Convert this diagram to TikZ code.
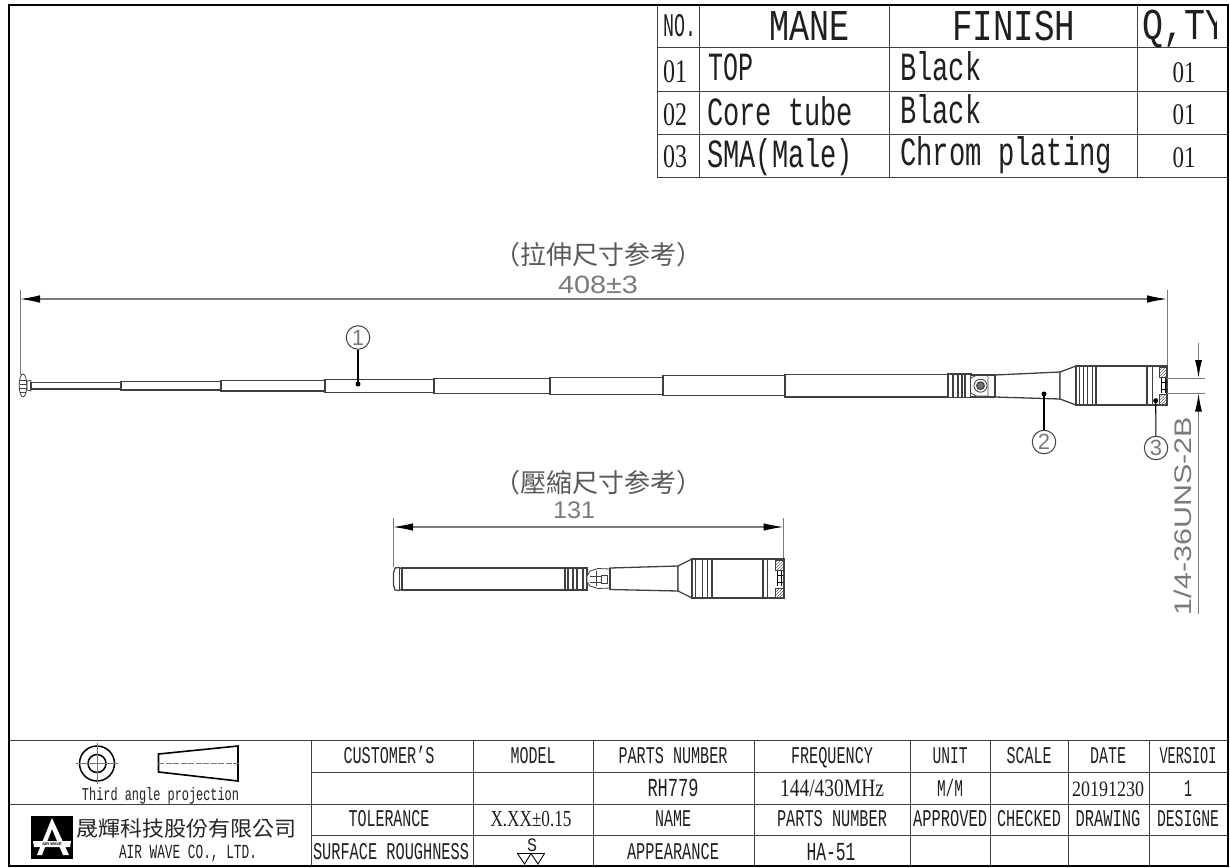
\documentclass[tikz,border=0pt]{standalone}
\usepackage{fontspec}
\usepackage{graphicx}
\usetikzlibrary{arrows.meta,patterns}
\setmainfont{Liberation Mono}
\newfontfamily\cjk{Noto Sans CJK TC}
\newfontfamily\cadfont{Liberation Sans}
\newfontfamily\numf{Liberation Serif}
\newcommand\T[3]{{\fontsize{#1}{#1}\selectfont\resizebox{#2pt}{\height}{#3}}}
\newcommand\N[3]{{\numf\fontsize{#1}{#1}\selectfont\resizebox{#2pt}{\height}{#3}}}
\definecolor{ink}{gray}{0.25}
\definecolor{cad}{gray}{0.48}
\tikzset{
  x=1pt,y=-1pt,
  txt/.style={inner sep=0pt,anchor=base,text=black!88},
  ltxt/.style={inner sep=0pt,anchor=base west,text=black!88},
  grid/.style={draw=ink,line width=1pt},
  part/.style={draw=ink,line width=1.3pt,fill=white},
  joint/.style={draw=ink,line width=2pt},
  thin part/.style={draw=ink,line width=.8pt},
  hatch/.style={draw=ink,line width=.4pt,pattern=north east lines,pattern color=black!60},
  dimline/.style={draw=cad,line width=1.1pt},
  dimarrow/.style={dimline,{Latex[length=20pt,width=7.5pt,black]}-{Latex[length=20pt,width=7.5pt,black]}},
  extline/.style={draw=cad,line width=1pt},
  balloon/.style={circle,draw=ink,line width=1pt,minimum size=23.5pt,inner sep=0pt,text=cad,font=\cadfont\fontsize{22}{22}\selectfont},
  leader/.style={draw=black,line width=1.1pt},
  dot/.style={fill=black,circle,inner sep=0pt,minimum size=5pt},
  cadtext/.style={inner sep=0pt,text=cad,font=\cadfont},
  cjktext/.style={inner sep=0pt,text=black!65,font=\cjk\fontsize{26}{26}\selectfont},
}
\begin{document}
\begin{tikzpicture}
\useasboundingbox (0,0) rectangle (1230,867);
\fill[white] (0,0) rectangle (1230,867);
% outer frame
\draw[black,line width=2pt] (8.5,5) rectangle (1227.5,865.5);

% top table
\draw[grid] (657,5)--(657,177)--(1227,177);
\draw[grid] (657,48)--(1227,48) (657,91)--(1227,91) (657,134)--(1227,134);
\draw[grid] (699,5)--(699,177) (889,5)--(889,177) (1137,5)--(1137,177);
\node[txt] (h1) at (679.5,37) {\T{33}{33}{NO.}};
\node[txt] (h2) at (809,41) {\T{44}{80}{MANE}};
\node[txt] (h3) at (1013.5,41) {\T{44}{123}{FINISH}};
\begin{scope}
\clip (1137,6) rectangle (1216,48);
\node[ltxt] (h4) at (1142,40) {\T{44}{84}{Q,TY}};
\end{scope}
\node[txt] (a1) at (675,82) {\N{33}{24}{01}};
\node[ltxt] (a2) at (708,81) {\T{40}{45}{TOP}};
\node[ltxt] (a3) at (900,80) {\T{40}{81}{Black}};
\node[txt] (a4) at (1184,82) {\N{30}{23}{01}};
\node[txt] (b1) at (675,125) {\N{33}{24}{02}};
\node[ltxt] (b2) at (707,125) {\T{40}{146}{Core tube}};
\node[ltxt] (b3) at (900,123) {\T{40}{81}{Black}};
\node[txt] (b4) at (1184,124) {\N{30}{23}{01}};
\node[txt] (c1) at (675,167) {\N{33}{24}{03}};
\node[ltxt] (c2) at (707,167) {\T{40}{146}{SMA(Male)}};
\node[ltxt] (c3) at (900,165) {\T{40}{212}{Chrom plating}};
\node[txt] (c4) at (1184,167) {\N{30}{23}{01}};

% main dimension
\coordinate (dl) at (20,299);
\coordinate (dr) at (1167,299);
\coordinate (dlb) at (20,375);
\coordinate (drb) at (1167,366);
\draw[extline] (20,290)--(dlb);
\draw[extline] (1167,290)--(drb);
\draw[dimarrow] (dl)--(dr);
\node[cjktext] (t1) at (598.5,255) {（拉伸尺寸参考）};
\node[cadtext,font=\cadfont\fontsize{25}{25}\selectfont] (t2) at (598,285) {\resizebox{80pt}{\height}{408±3}};

% main antenna : rod
\draw[thin part,fill=white] (23,385.5) ellipse [x radius=3.8,y radius=11.5];
\draw[draw=ink,line width=.5pt] (20,380)--(26,380) (19.5,384)--(26.5,384) (19.5,388)--(26.5,388) (20,392)--(26,392);
\draw[thin part,fill=white] (27,381)--(31,380.5)--(31,391)--(27,390)--cycle;
\draw[part] (31,382.5) rectangle (121,389);
\draw[part] (121,381.3) rectangle (221,390);
\draw[part] (221,380.3) rectangle (325,391);
\draw[part] (325,379.3) rectangle (434,392.2);
\draw[part] (434,378.3) rectangle (550,393.3);
\draw[part] (550,377.3) rectangle (663,394.3);
\draw[part] (663,375.5) rectangle (785,395.7);
\draw[part] (785,374.5) rectangle (948,397);
\foreach \xx/\a/\b in {121/381.3/390,221/380.3/391,325/379.3/392.2,434/378.3/393.3,550/377.3/394.3,663/375.5/395.7,785/374.5/397}
  \draw[joint] (\xx,\a)--(\xx,\b);
% grip
\draw[part] (948,374) rectangle (971,397.5);
\foreach \xx in {948,953,958,962,965,971} \draw[joint,line width=1.3pt] (\xx,374)--(\xx,397.5);
% hinge
\draw[part] (971,375) -- (995,375) -- (995,397) -- (971,397);
\draw[thin part,fill=white] (971,378) -- (976,375.5) -- (988,375.5) -- (988,396) -- (976,396) -- (971,393);
\draw[thin part,fill=white] (980.5,385.7) circle (6.5);
\draw[draw=ink,line width=1.2pt,fill=black!55] (980.5,385.7) circle (3.8);
% taper
\draw[part] (995,375)--(1060,372)--(1060,399)--(995,397)--cycle;
\draw[joint,line width=1.4pt] (995,375)--(995,397);
\draw[part] (1060,372)--(1076,366)--(1076,405)--(1060,399)--cycle;
% ribs
\draw[part] (1076,366) rectangle (1096,405);
\foreach \xx in {1079,1083,1087,1092,1096} \draw[draw=ink,line width=1pt] (\xx,366)--(\xx,405);
% body
\draw[part] (1096,366) rectangle (1147,405);
\draw[part] (1147,366) rectangle (1167,405);
\draw[draw=ink,line width=1pt] (1152,366)--(1152,405);
\fill[white] (1159,366.6) rectangle (1167,404.4);
\draw[hatch] (1159,367) rectangle (1167,377);
\draw[hatch] (1159,394) rectangle (1167,405);
\draw[draw=ink,line width=1.5pt] (1167,366)--(1167,405);
\draw[draw=black,line width=1pt] (1161,378)--(1161,393) (1165,378)--(1165,393) (1161,382)--(1167,382) (1161,389)--(1167,389);

% balloons
\coordinate (d1) at (358,384);
\coordinate (d2) at (1044,394);
\coordinate (d3) at (1155.7,400.7);
\node[balloon] (n1) at (358,337.5) {1};
\node[balloon] (n2) at (1044,442) {2};
\node[balloon] (n3) at (1156,448) {3};
\draw[leader] (n1)--(d1);
\draw[leader] (n2)--(d2);
\draw[leader] (n3)--(d3);
\node[dot] (p1) at (d1) {};
\node[dot] (p2) at (d2) {};
\node[dot] (p3) at (d3) {};

% thread dimension
\coordinate (u1) at (1167,378);
\coordinate (u2) at (1205,378);
\coordinate (v1) at (1167,393.5);
\coordinate (v2) at (1205,393.5);
\coordinate (w1) at (1198.5,343);
\coordinate (w2) at (1198.5,378);
\coordinate (w3) at (1198.5,393.5);
\coordinate (w4) at (1198.5,614);
\draw[extline] (u1)--(u2);
\draw[extline] (v1)--(v2);
\draw[dimline,-{Latex[length=18pt,width=7pt,black]}] (w1)--(w2);
\draw[dimline,-{Latex[length=18pt,width=7pt,black]}] (w4)--(w3);
\node[cadtext,rotate=90,font=\cadfont\fontsize{24}{24}\selectfont] (t5) at (1183,516) {\resizebox{198pt}{\height}{1/4-36UNS-2B}};

% compressed dimension
\coordinate (el) at (393,527);
\coordinate (er) at (783.5,527);
\draw[extline] (393,518)--(393,567);
\draw[extline] (783.5,518)--(783.5,558);
\draw[dimarrow] (el)--(er);
\node[cjktext] (t3) at (598,483) {（壓縮尺寸参考）};
\node[cadtext,font=\cadfont\fontsize{24}{24}\selectfont] (t4) at (574,510.5) {\resizebox{42pt}{\height}{131}};

% compressed antenna
\draw[part] (395,568) -- (399,567.5) -- (402,569) -- (402,589) -- (399,590.5) -- (395,590) -- (393.5,585) -- (393.5,573) -- cycle;
\draw[part] (402,568) rectangle (565,590);
\draw[joint] (402,568)--(402,590);
\draw[draw=ink,line width=.7pt] (399,568)--(399,590);
\draw[part] (565,568) rectangle (587,590);
\foreach \xx in {565,568,573,577,583,587} \draw[joint,line width=1.3pt] (\xx,568)--(\xx,590);
\draw[thin part,fill=white] (587,576) -- (590,571) -- (598,568.5) -- (610,569) -- (610,588) -- (598,588.5) -- (590,586) -- (587,582) -- cycle;
\draw[thin part] (596,571)--(596,586) (601,575)--(607,575)--(607,583)--(601,583)--cycle (590,576)--(601,576) (590,582)--(601,582);
\draw[part] (610,568)--(678,566)--(678,591)--(610,589.5)--cycle;
\draw[joint,line width=1.4pt] (610,568)--(610,589.5);
\draw[part] (678,566)--(692,559)--(692,598)--(678,591)--cycle;
\draw[part] (692,559) rectangle (712,598);
\foreach \xx in {695,702,707,712} \draw[draw=ink,line width=1pt] (\xx,559)--(\xx,598);
\draw[part] (712,559) rectangle (763,598);
\draw[part] (763,559) rectangle (784,598);
\draw[draw=ink,line width=1pt] (767,559)--(767,598);
\fill[white] (775,559.6) rectangle (784,597.4);
\draw[hatch] (775,560) rectangle (783.5,570);
\draw[hatch] (775,588) rectangle (783.5,598);
\draw[draw=ink,line width=1.3pt] (783.5,559)--(783.5,598);
\draw[draw=black,line width=1pt] (777,571)--(777,586) (781,571)--(781,586) (777,575)--(783,575) (777,582)--(783,582);

% title block grid
\draw[grid] (8.5,740)--(1227.5,740);
\draw[grid] (311,772)--(1227.5,772);
\draw[grid] (8.5,804)--(1227.5,804);
\draw[grid] (311,835)--(1227.5,835);
\foreach \xx in {311,473,593,754,910,990,1068,1149} \draw[grid] (\xx,740)--(\xx,865);

% projection symbol
\draw[black,line width=1.5pt] (97,763.5) circle (17.5);
\draw[black,line width=1.5pt] (97,763.5) circle (9);
\draw[draw=cad,line width=.5pt] (76,763.5)--(118,763.5) (97,743)--(97,784);
\draw[black,line width=1.6pt] (158.5,754)--(238,746)--(238,781)--(158.5,772)--cycle;
\draw[draw=cad,line width=.6pt,dash pattern=on 6pt off 1.5pt] (158,763.5)--(240,763.5);
\node[txt] (tap) at (160.5,800) {\T{18}{157}{Third angle projection}};

% logo
\fill[black] (31,816) rectangle (73,859);
\fill[white] (52,818) -- (37,855) -- (42,855) -- (52,829) -- (63,855) -- (69,855) -- cycle;
\fill[white] (33,841) -- (71,841) -- (70,847) -- (34,847) -- cycle;
\node[inner sep=0pt,text=black,font=\cadfont\bfseries\fontsize{4}{4}\selectfont] (lg) at (52,844) {AIR WAVE};
\node[inner sep=0pt,anchor=west,text=black!85,font=\cjk\fontsize{21}{21}\selectfont] (co) at (76,829) {\resizebox{220pt}{\height}{晟輝科技股份有限公司}};
\node[txt] (co2) at (188,858.5) {\T{20}{138}{AIR WAVE CO., LTD.}};

% title block text, row 1
\node[txt] (r11) at (389,763) {\T{24}{91}{CUSTOMER'S}};
\node[txt] (r12) at (533,763) {\T{24}{45}{MODEL}};
\node[txt] (r13) at (673,763) {\T{24}{109}{PARTS NUMBER}};
\node[txt] (r14) at (832,763) {\T{24}{82}{FREQUENCY}};
\node[txt] (r15) at (950,763) {\T{24}{35}{UNIT}};
\node[txt] (r16) at (1029,763) {\T{24}{45}{SCALE}};
\node[txt] (r17) at (1108,763) {\T{24}{36}{DATE}};
\node[txt] (r18) at (1188,763) {\T{24}{57}{VERSIOI}};
% row 2
\node[txt] (r23) at (673,796) {\T{26}{51}{RH779}};
\node[txt] (r24) at (832,796.5) {\N{25}{104}{144/430MHz}};
\node[txt] (r25) at (950,796) {\T{24}{26}{M/M}};
\node[txt] (r27) at (1108,796.5) {\N{22}{72}{20191230}};
\node[txt] (r28) at (1188,796) {\T{24}{8}{1}};
% row 3
\node[txt] (r31) at (389,826.5) {\T{24}{81}{TOLERANCE}};
\node[txt] (r32) at (531,826.5) {\N{23}{81}{X.XX±0.15}};
\node[txt] (r33) at (673,826.5) {\T{24}{36}{NAME}};
\node[txt] (r34) at (832,826.5) {\T{24}{110}{PARTS NUMBER}};
\node[txt] (r35) at (950,826.5) {\T{24}{74}{APPROVED}};
\node[txt] (r36) at (1029,826.5) {\T{24}{64}{CHECKED}};
\node[txt] (r37) at (1108,826.5) {\T{24}{65}{DRAWING}};
\node[txt] (r38) at (1188,826.5) {\T{24}{62}{DESIGNE}};
% row 4
\node[txt] (r41) at (391,859) {\T{24}{156}{SURFACE ROUGHNESS}};
\node[txt] (r42) at (532,851) {\T{19}{10}{S}};
\draw[black,line width=.9pt] (517,853)--(545,853);
\draw[black,line width=.9pt] (517.5,853.5)--(524.5,864)--(531,853.5)--(538,864)--(544.5,853.5);
\node[txt] (r43) at (673,859.5) {\T{24}{92}{APPEARANCE}};
\node[txt] (r44) at (831,860) {\T{26}{49}{HA-51}};
\end{tikzpicture}
\end{document}
